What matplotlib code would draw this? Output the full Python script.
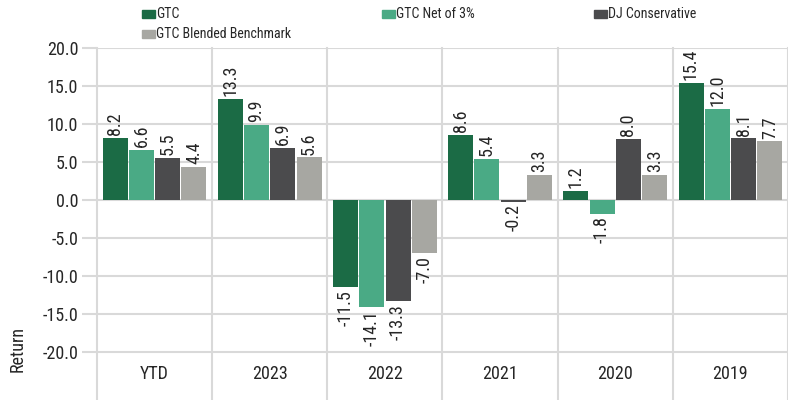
import matplotlib
matplotlib.use("Agg")
import matplotlib.pyplot as plt
import numpy as np
from matplotlib.patches import Rectangle

plt.rcParams['font.family'] = ['Roboto Condensed', 'DejaVu Sans']

categories = ["YTD", "2023", "2022", "2021", "2020", "2019"]
series_names = ["GTC", "GTC Net of 3%", "DJ Conservative", "GTC Blended Benchmark"]
gtc = [8.2, 13.3, -11.5, 8.6, 1.2, 15.4]
gtc_net = [6.6, 9.9, -14.1, 5.4, -1.8, 12.0]
dj_conservative = [5.5, 6.9, -13.3, -0.2, 8.0, 8.1]
blended = [4.4, 5.6, -7.0, 3.3, 3.3, 7.7]
y_ticks = [-20, -15, -10, -5, 0, 5, 10, 15, 20]

colors = ["#1b6b45", "#4aaa85", "#4b4b4d", "#a7a7a2"]
grid_color = "#d9d9d9"
text_color = "#262626"

fig = plt.figure(figsize=(7.88, 4.0), dpi=100)
ax = fig.add_axes([97 / 788, 0.0, 1 - 97 / 788, 1 - 48 / 400])

px_per_unit = 7.6
ax.set_ylim(-20 - 48 / px_per_unit, 20)
ax.set_xlim(-0.5, len(categories) - 0.5)

x = np.arange(len(categories))
step = 0.228
width = 0.217
offsets = (np.arange(4) - 1.5) * step

for s, (vals, c) in enumerate(zip([gtc, gtc_net, dj_conservative, blended], colors)):
    ax.bar(x + offsets[s], vals, width=width, color=c, zorder=3)
    for xi, v in zip(x + offsets[s], vals):
        ax.annotate(f"{v:.1f}", (xi, v), xytext=(0, 2 if v >= 0 else -2),
                    textcoords="offset points", rotation=90, ha="center",
                    va="bottom" if v >= 0 else "top", fontsize=13,
                    color=text_color, zorder=4)

# horizontal grid with tick stubs reaching left of the axis
ax.set_yticks(y_ticks)
ax.set_yticklabels([f"{t:.1f}" for t in y_ticks], fontsize=13, color=text_color)
ax.tick_params(axis="y", length=10.5, width=1.5, color=grid_color, pad=3)
ax.yaxis.grid(True, color=grid_color, linewidth=1.5, zorder=0)
ax.set_axisbelow(True)

# vertical separators between categories
for b in np.arange(len(categories) + 1) - 0.5:
    ax.axvline(b, color=grid_color, linewidth=1.5, zorder=1, clip_on=False)

ax.set_xticks([])
for sp in ax.spines.values():
    sp.set_visible(False)

for xi, lab in zip(x, categories):
    ax.text(xi, -20 - 22 / px_per_unit, lab, ha="center", va="center",
            fontsize=13, color=text_color)

fig.text(18 / 788, 1 - 349 / 400, "Return", rotation=90, ha="center",
         va="center", fontsize=13, color=text_color)

# legend entries laid out in a 3-column grid
legend_pos = [(142, 14), (382, 14), (594, 14), (142, 34)]
for (lx, ly), name, c in zip(legend_pos, series_names, colors):
    fig.add_artist(Rectangle((lx / 788, 1 - (ly + 4) / 400), 13 / 788, 8 / 400,
                             transform=fig.transFigure, color=c))
    fig.text((lx + 14) / 788, 1 - ly / 400, name, ha="left", va="center",
             fontsize=10, color=text_color)

fig.savefig("out.png", dpi=100)
